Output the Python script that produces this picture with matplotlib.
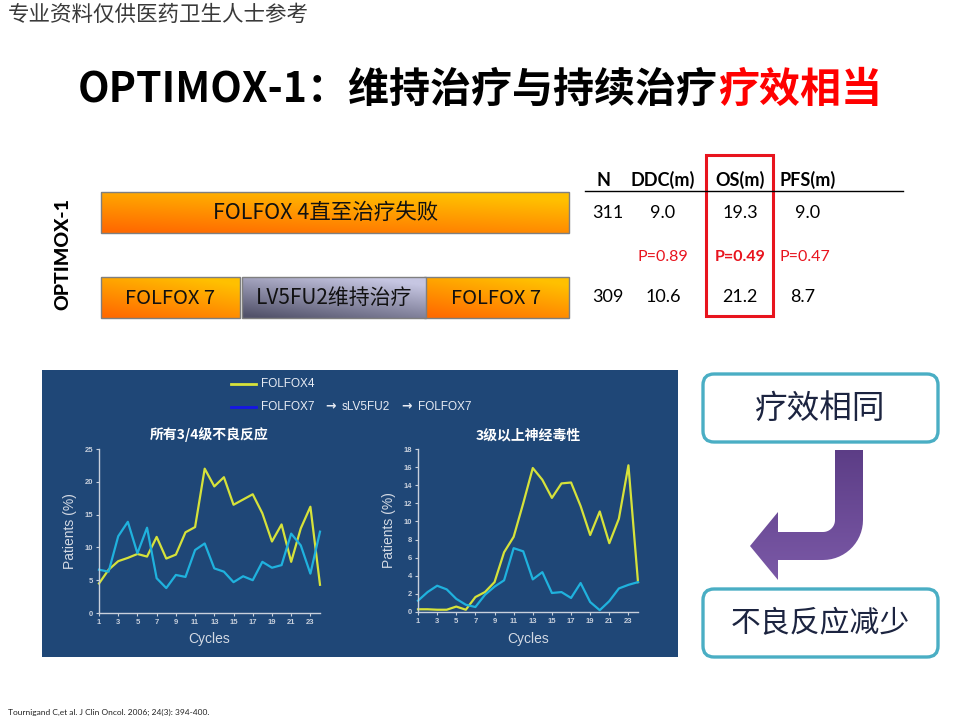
import numpy as np
import matplotlib
matplotlib.use("Agg")
import matplotlib.pyplot as plt
from matplotlib.patches import Rectangle, FancyBboxPatch, PathPatch
from matplotlib.path import Path
from matplotlib.lines import Line2D

CJK = ['Noto Sans CJK SC', 'DejaVu Sans']
LAT = ['Liberation Sans', 'DejaVu Sans']
CAL = ['Lato', 'DejaVu Sans']

# ---------------- data ----------------
cycles = list(range(1, 25))
ae_folfox4 = [4.5, 6.6, 7.9, 8.4, 9.0, 8.6, 11.6, 8.3, 8.9, 12.3, 13.1, 22.0,
              19.3, 20.7, 16.5, 17.3, 18.1, 15.2, 10.9, 13.5, 7.8, 12.9, 16.2, 4.3]
ae_folfox7 = [6.6, 6.3, 11.7, 13.9, 9.1, 13.0, 5.3, 3.8, 5.8, 5.5, 9.6, 10.6,
              6.8, 6.3, 4.7, 5.6, 5.0, 7.8, 6.9, 7.3, 12.1, 10.3, 6.0, 12.4]
neuro_folfox4 = [0.3, 0.3, 0.25, 0.25, 0.6, 0.25, 1.65, 2.2, 3.3, 6.6, 8.3, 12.0,
                 15.9, 14.6, 12.6, 14.2, 14.3, 11.7, 8.5, 11.1, 7.6, 10.3, 16.2, 3.3]
neuro_folfox7 = [1.25, 2.2, 2.9, 2.5, 1.45, 0.8, 0.55, 1.9, 2.8, 3.5, 7.05, 6.7,
                 3.6, 4.4, 2.1, 2.2, 1.55, 3.2, 1.1, 0.2, 1.2, 2.6, 3.0, 3.3]
x_ticks = list(range(1, 24, 2))
ae_yticks = [0, 5, 10, 15, 20, 25]
neuro_yticks = [0, 2, 4, 6, 8, 10, 12, 14, 16, 18]

table_headers = ["N", "DDC(m)", "OS(m)", "PFS(m)"]
row_folfox4 = ["311", "9.0", "19.3", "9.0"]
row_pvalues = ["", "P=0.89", "P=0.49", "P=0.47"]
row_optimox = ["309", "10.6", "21.2", "8.7"]

legend_line1 = "FOLFOX4"
legend_line2 = ["FOLFOX7", "\u2192", "sLV5FU2", "\u2192", "FOLFOX7"]
chart_titles = ["所有3/4级不良反应", "3级以上神经毒性"]

# ---------------- figure ----------------
W, H = 960, 720
fig = plt.figure(figsize=(9.6, 7.2), dpi=100)
fig.patch.set_facecolor('white')
ov = fig.add_axes([0, 0, 1, 1])
ov.set_xlim(0, W)
ov.set_ylim(H, 0)
ov.axis('off')
ov.set_zorder(0)


def gradient_box(ax, x0, y0, x1, y1, c_dark, c_light, zorder=2, edge='#7f7f7f'):
    n, m = 40, 120
    v = np.linspace(0, 1, n)[:, None]   # 0 top -> 1 bottom
    u = np.linspace(0, 1, m)[None, :]   # 0 left -> 1 right
    mix = np.clip(0.75 * v + 0.45 * (1 - u) - 0.15, 0, 1)
    cd = np.array(matplotlib.colors.to_rgb(c_dark))
    cl = np.array(matplotlib.colors.to_rgb(c_light))
    img = cl[None, None, :] * (1 - mix[..., None]) + cd[None, None, :] * mix[..., None]
    ax.imshow(img, extent=(x0, x1, y1, y0), origin='upper', aspect='auto',
              zorder=zorder, interpolation='bilinear')
    ax.add_patch(Rectangle((x0, y0), x1 - x0, y1 - y0, fill=False,
                           edgecolor=edge, lw=1.0, zorder=zorder + 0.1))


# watermark
ov.text(8, 15, "专业资料仅供医药卫生人士参考", family=CJK, fontsize=15.5,
        color='#3a3a3a', va='center', ha='left', weight='light')

# title
split_x = 718
ov.text(split_x, 90, "OPTIMOX-1：维持治疗与持续治疗", family=CJK, fontsize=29.5,
        weight='black', color='black', ha='right', va='center')
ov.text(split_x, 90, "疗效相当", family=CJK, fontsize=29.5,
        weight='black', color='#ff0000', ha='left', va='center')

# vertical label
ov.text(63, 254, "OPTIMOX-1", family=CAL, fontsize=14, weight='black',
        rotation=90, ha='center', va='center', color='black')

# treatment bars
orange_dark, orange_light = '#ff6a00', '#ffc000'
gradient_box(ov, 101, 192, 569, 233, orange_dark, orange_light)
ov.text(326, 213, "FOLFOX 4直至治疗失败", family=CJK, fontsize=15.5,
        ha='center', va='center', color='#111111', zorder=5)
gradient_box(ov, 101, 277, 240, 318, orange_dark, orange_light)
ov.text(170, 298, "FOLFOX 7", family=CJK, fontsize=14.5, ha='center',
        va='center', color='#111111', zorder=5)
gradient_box(ov, 424, 277, 569, 318, orange_dark, orange_light)
ov.text(496, 298, "FOLFOX 7", family=CJK, fontsize=14.5, ha='center',
        va='center', color='#111111', zorder=5)
gradient_box(ov, 242, 277, 426, 318, '#52526a', '#c6c6e2', zorder=3)
ov.text(334, 298, "LV5FU2维持治疗", family=CJK, fontsize=15, ha='center',
        va='center', color='#111111', zorder=5)

# table
col_x = [604, 663, 740, 808]
ov.plot([585, 903], [191, 191], color='black', lw=1.0)
for cx, h in zip(col_x, table_headers):
    ov.text(cx, 180, h, family=CAL, fontsize=13, weight='bold',
            ha='center', va='center', color='black')
for cx, v in zip(col_x, row_folfox4):
    ov.text(cx + (4 if v == '311' else 0), 213, v, family=CAL, fontsize=13,
            ha='center', va='center', color='black')
for cx, v in zip(col_x, row_pvalues):
    if v:
        ov.text(cx + (-3 if v == 'P=0.47' else 0), 257, v, family=CAL, fontsize=11.5,
                weight='bold' if v == 'P=0.49' else 'normal',
                ha='center', va='center', color='#e8141e')
for cx, v in zip(col_x, row_optimox):
    ov.text(cx + (4 if v == '309' else 0) + (-5 if v == '8.7' else 0), 297, v,
            family=CAL, fontsize=13, ha='center', va='center', color='black')
ov.add_patch(Rectangle((706, 155), 67, 161, fill=False, edgecolor='#e8141e', lw=2.2))

# chart panel
panel_color = '#1f4777'
ov.add_patch(Rectangle((42, 370), 636, 287, facecolor=panel_color,
                       edgecolor='none', zorder=1))
yellow = '#d6e23a'
cyan = '#1fb2de'
ov.add_line(Line2D([231, 256], [384, 384], color=yellow, lw=2, zorder=3))
ov.add_line(Line2D([231, 256], [407, 407], color='#1616e6', lw=2, zorder=3))
ov.text(261, 384, legend_line1, family=LAT, fontsize=8.5, color='#e8ecf4',
        va='center', ha='left', zorder=3)
leg_x = [261, 325, 342, 401, 418]
for lx, t in zip(leg_x, legend_line2):
    if t == "\u2192":
        ov.text(lx, 406, t, family=['DejaVu Sans'], fontsize=9, weight='bold',
                color='#e8ecf4', va='center', ha='left', zorder=3)
    else:
        ov.text(lx, 407, t, family=LAT, fontsize=8.5,
                color='#e8ecf4', va='center', ha='left', zorder=3)


def make_chart(rect, y4, y7, yticks, ymax, title):
    ax = fig.add_axes(rect)
    ax.set_zorder(2)
    ax.patch.set_alpha(0)
    ax.plot(cycles, y4, color=yellow, lw=1.6, clip_on=False)
    ax.plot(cycles, y7, color=cyan, lw=1.6, clip_on=False)
    ax.set_xlim(1, 24)
    ax.set_ylim(0, ymax)
    ax.set_xticks(x_ticks)
    ax.set_yticks(yticks)
    for s in ['top', 'right']:
        ax.spines[s].set_visible(False)
    for s in ['left', 'bottom']:
        ax.spines[s].set_color('#c8d0dc')
        ax.spines[s].set_linewidth(1.0)
    ax.tick_params(colors='#c8d0dc', labelsize=5.5, length=2.5, width=0.8, pad=1.5)
    for lab in ax.get_xticklabels() + ax.get_yticklabels():
        lab.set_fontweight('bold')
        lab.set_family(LAT)
    ax.set_xlabel("Cycles", family=LAT, fontsize=10, color='#d4dae4', labelpad=5)
    ax.set_ylabel("Patients (%)", family=LAT, fontsize=10, color='#d4dae4', labelpad=6)
    ax.set_title(title, family=CJK, fontsize=10, weight='black', color='white', pad=7)
    return ax


make_chart([99 / W, (H - 613) / H, 221 / W, 164 / H], ae_folfox4, ae_folfox7,
           ae_yticks, 25, chart_titles[0])
make_chart([418 / W, (H - 612) / H, 220 / W, 163 / H], neuro_folfox4, neuro_folfox7,
           neuro_yticks, 18, chart_titles[1])

# right side boxes
teal = '#4aaec4'
for (y0, txt, fs) in [(374, "疗效相同", 23.5), (589, "不良反应减少", 21.5)]:
    ov.add_patch(FancyBboxPatch((703, y0), 235, 68,
                                boxstyle="round,pad=0,rounding_size=11",
                                facecolor='white', edgecolor=teal, lw=2.4, zorder=3))
    ov.text(820, y0 + 35, txt, family=CJK, fontsize=fs, color='#1c2440',
            ha='center', va='center', zorder=4)

# bent arrow
cxc, cyc = 823, 520
R_out, R_in = 40, 12
verts = [(835, 450), (863, 450), (863, cyc)]
for a in np.linspace(0, np.pi / 2, 16)[1:]:
    verts.append((cxc + R_out * np.cos(a), cyc + R_out * np.sin(a)))
verts += [(778, cyc + R_out), (778, 580), (750, 546), (778, 512), (778, cyc + R_in),
          (cxc, cyc + R_in)]
for a in np.linspace(np.pi / 2, 0, 16)[1:]:
    verts.append((cxc + R_in * np.cos(a), cyc + R_in * np.sin(a)))
verts.append((835, 450))
arrow_path = Path(verts, closed=True)
arrow_patch = PathPatch(arrow_path, facecolor='none', edgecolor='none', zorder=3)
ov.add_patch(arrow_patch)
grad = np.linspace(0, 1, 60)[:, None] * np.ones((1, 10))
c_top = np.array(matplotlib.colors.to_rgb('#5c3d86'))
c_bot = np.array(matplotlib.colors.to_rgb('#7c5aa8'))
img = c_top[None, None, :] * (1 - grad[..., None]) + c_bot[None, None, :] * grad[..., None]
im = ov.imshow(img, extent=(745, 868, 585, 448), origin='upper', aspect='auto',
               zorder=3, interpolation='bilinear')
im.set_clip_path(arrow_patch)

# footer
ov.text(8, 712, "Tournigand C,et al. J Clin Oncol. 2006; 24(3): 394-400.",
        family=CAL, fontsize=6, color='#222222', ha='left', va='center')

ov.set_xlim(0, W)
ov.set_ylim(H, 0)
fig.savefig("out.png", dpi=100, facecolor='white')
